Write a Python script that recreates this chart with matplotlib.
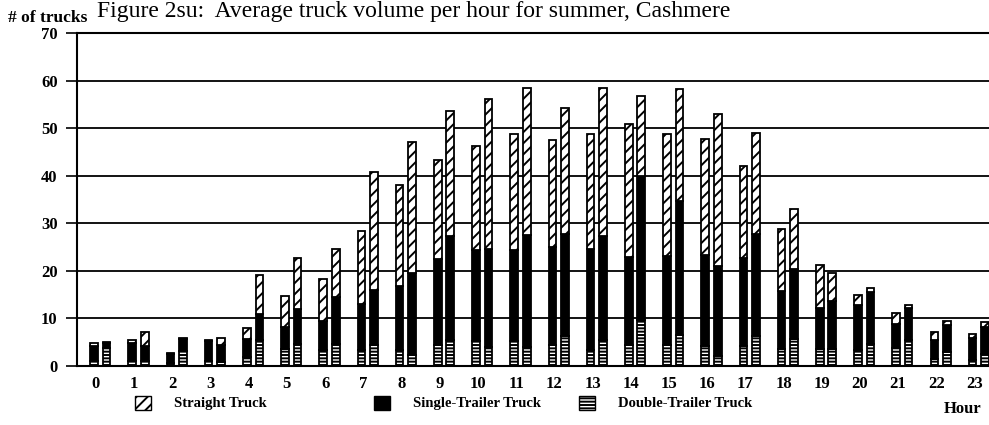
import matplotlib
matplotlib.use("Agg")
import matplotlib.pyplot as plt
import numpy as np
from matplotlib.patches import Patch

plt.rcParams["font.family"] = ["Liberation Serif", "DejaVu Serif"]
plt.rcParams["hatch.linewidth"] = 1.4

hours = list(range(24))

# first bar of each hour
straight_a = [0.7, 0.5, 0.2, 0.3, 2.4, 6.5, 8.9, 15.2, 21.3, 20.9, 21.8, 24.4,
              22.5, 24.1, 27.9, 25.7, 24.5, 19.3, 13.2, 9.1, 2.1, 2.2, 1.8, 0.9]
single_a = [3.2, 3.9, 1.9, 4.2, 3.8, 4.6, 6.1, 9.8, 13.5, 18.2, 19.2, 19.1,
            20.7, 21.3, 18.6, 18.8, 19.1, 18.5, 12.2, 8.6, 9.5, 5.2, 3.9, 4.7]
double_a = [1.0, 1.0, 0.7, 1.0, 1.8, 3.6, 3.3, 3.3, 3.3, 4.3, 5.2, 5.2,
            4.3, 3.3, 4.3, 4.3, 4.2, 4.2, 3.5, 3.5, 3.3, 3.7, 1.5, 1.2]

# second bar of each hour
straight_b = [0.1, 2.9, 0.2, 1.5, 8.1, 10.7, 10.1, 24.8, 27.4, 26.2, 31.5, 30.8,
              26.4, 31.0, 16.8, 23.7, 32.0, 21.2, 12.8, 6.0, 0.7, 0.7, 0.8, 1.0]
single_b = [1.1, 3.2, 2.4, 3.5, 5.6, 7.3, 9.7, 11.6, 17.4, 22.0, 20.6, 23.6,
            21.5, 22.0, 30.4, 28.2, 18.9, 21.5, 14.7, 10.0, 10.9, 6.7, 5.6, 5.7]
double_b = [3.8, 1.0, 3.2, 0.8, 5.4, 4.7, 4.7, 4.3, 2.2, 5.4, 4.0, 4.0,
            6.3, 5.4, 9.6, 6.4, 2.1, 6.3, 5.6, 3.6, 4.7, 5.4, 3.0, 2.5]

yticks = [0, 10, 20, 30, 40, 50, 60, 70]


def stack(ax, x, dbl, sgl, strt, w):
    dbl = np.array(dbl)
    sgl = np.array(sgl)
    strt = np.array(strt)
    kw = dict(width=w, edgecolor="black", linewidth=1.3, zorder=3)
    ax.bar(x, dbl, color="white", hatch="-----", **kw)
    ax.bar(x, sgl, bottom=dbl, color="black", **kw)
    ax.bar(x, strt, bottom=dbl + sgl, color="white", hatch="///", **kw)


fig = plt.figure(figsize=(9.89, 4.25), dpi=100)
ax = fig.add_axes([0.0779, 0.139, 0.9221, 0.783])

x = np.array(hours, dtype=float)
stack(ax, x, double_a, single_a, straight_a, 0.2)
stack(ax, x + 0.327, double_b, single_b, straight_b, 0.2)

ax.set_xlim(-0.445, 23.43)
ax.set_ylim(0, 70)
ax.set_yticks(yticks)
ax.set_yticklabels([str(v) for v in yticks], fontsize=12, fontweight="bold")
ax.set_xticks(x + 0.05)
ax.set_xticklabels([str(h) for h in hours], fontsize=12, fontweight="bold")
ax.tick_params(axis="x", length=0, pad=7)
ax.tick_params(axis="y", length=8, width=1.2, direction="out", pad=6)

ax.yaxis.grid(True, color="black", linewidth=1.3)
ax.set_axisbelow(True)
ax.spines["right"].set_visible(False)
for s in ("left", "bottom", "top"):
    ax.spines[s].set_linewidth(1.5)

# title and axis captions
fig.text(0.418, 1 - 17 / 425, "Figure 2su:  Average truck volume per hour for summer, Cashmere",
         ha="center", va="baseline", fontsize=17)
fig.text(0.008, 1 - 22 / 425, "# of trucks", ha="left", va="baseline",
         fontsize=12.5, fontweight="bold")
fig.text(0.992, 1 - 413 / 425, "Hour", ha="right", va="baseline",
         fontsize=12, fontweight="bold")

# legend, three entries placed separately
entries = [
    (Patch(facecolor="white", edgecolor="black", hatch="///"), "Straight Truck", 0.136),
    (Patch(facecolor="black", edgecolor="black"), "Single-Trailer Truck", 0.378),
    (Patch(facecolor="white", edgecolor="black", hatch="-----"), "Double-Trailer Truck", 0.585),
]
for handle, label, xpos in entries:
    leg = fig.legend([handle], [label], loc="center left",
                     bbox_to_anchor=(xpos, 1 - 403 / 425), frameon=False,
                     handlelength=1.1, handleheight=1.1, handletextpad=1.6,
                     borderpad=0, borderaxespad=0,
                     prop={"weight": "bold", "size": 10.5})

fig.savefig("out.png", dpi=100)
